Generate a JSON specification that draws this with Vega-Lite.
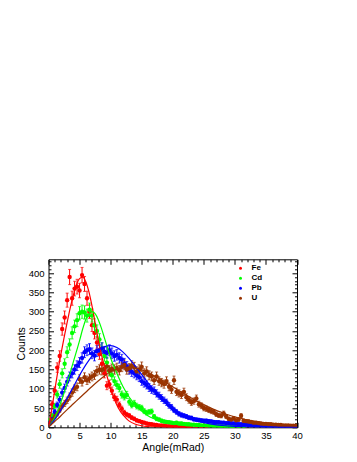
{
"$schema":"https://vega.github.io/schema/vega-lite/v6.json",
"width":248.5,"height":168,
"autosize":{"type":"none"},
"padding":{"left":48.5,"top":259.3,"right":60,"bottom":34.7},
"background":"white",
"view":{"stroke":"black","strokeWidth":1},
"config":{"axis":{"domain":false,"grid":false,"tickColor":"black","labelColor":"black","labelFont":"Liberation Sans","titleFont":"Liberation Sans","labelFontSize":9.5,"titleFontSize":10.5,"titleFontWeight":"normal","titleColor":"black","labelFlush":false,"labelOverlap":false,"zindex":1}},
"datasets":{
"pts":[
{"s":"Fe","x":0.2,"c":12,"e":3.5},{"s":"Fe","x":0.6,"c":60,"e":7.7},{"s":"Fe","x":1.0,"c":95,"e":9.7},{"s":"Fe","x":1.4,"c":155,"e":12.4},{"s":"Fe","x":1.8,"c":185,"e":13.6},{"s":"Fe","x":2.2,"c":255,"e":16},{"s":"Fe","x":2.6,"c":285,"e":16.9},{"s":"Fe","x":3.0,"c":330,"e":18.2},{"s":"Fe","x":3.4,"c":390,"e":19.7},{"s":"Fe","x":3.8,"c":335,"e":18.3},{"s":"Fe","x":4.2,"c":360,"e":19},{"s":"Fe","x":4.6,"c":365,"e":19.1},{"s":"Fe","x":5.0,"c":355,"e":18.8},{"s":"Fe","x":5.4,"c":395,"e":19.9},{"s":"Fe","x":5.8,"c":372,"e":19.3},{"s":"Fe","x":6.2,"c":335,"e":18.3},{"s":"Fe","x":6.6,"c":300,"e":17.3},{"s":"Fe","x":7.0,"c":265,"e":16.3},{"s":"Fe","x":7.4,"c":245,"e":15.7},{"s":"Fe","x":7.8,"c":220,"e":14.8},{"s":"Fe","x":8.2,"c":190,"e":13.8},{"s":"Fe","x":8.6,"c":165,"e":12.8},{"s":"Fe","x":9.0,"c":140,"e":11.8},{"s":"Fe","x":9.4,"c":108,"e":10.4},{"s":"Fe","x":9.8,"c":112,"e":10.6},{"s":"Fe","x":10.2,"c":95,"e":9.7},{"s":"Fe","x":10.6,"c":78,"e":8.8},{"s":"Fe","x":11.0,"c":72,"e":8.5},{"s":"Fe","x":11.4,"c":58,"e":7.6},{"s":"Fe","x":11.8,"c":48,"e":6.9},{"s":"Fe","x":12.2,"c":38,"e":6.2},{"s":"Fe","x":12.6,"c":33,"e":5.7},{"s":"Fe","x":13.0,"c":30,"e":5.5},{"s":"Fe","x":13.4,"c":25,"e":5},{"s":"Fe","x":13.8,"c":22,"e":4.7},{"s":"Fe","x":14.2,"c":18,"e":4.2},{"s":"Fe","x":14.6,"c":16,"e":4},{"s":"Fe","x":15.0,"c":14,"e":3.7},{"s":"Fe","x":15.4,"c":12,"e":3.5},{"s":"Fe","x":15.8,"c":10,"e":3.2},{"s":"Fe","x":16.2,"c":9,"e":3},{"s":"Fe","x":16.6,"c":8,"e":2.8},{"s":"Fe","x":17.0,"c":7,"e":2.6},{"s":"Fe","x":17.4,"c":6,"e":2.4},{"s":"Fe","x":17.8,"c":5,"e":2.2},{"s":"Fe","x":18.2,"c":5,"e":2.2},{"s":"Fe","x":18.6,"c":4,"e":2},{"s":"Fe","x":19.0,"c":3,"e":1.7},{"s":"Fe","x":19.4,"c":3,"e":1.7},{"s":"Fe","x":19.8,"c":2,"e":1.4},{"s":"Fe","x":20.2,"c":2,"e":1.4},{"s":"Fe","x":20.6,"c":2,"e":1.4},{"s":"Fe","x":21.0,"c":1,"e":1},{"s":"Fe","x":21.4,"c":1,"e":1},{"s":"Fe","x":21.8,"c":1,"e":1},{"s":"Fe","x":22.2,"c":1,"e":1},{"s":"Fe","x":22.6,"c":1,"e":1},{"s":"Fe","x":23.0,"c":1,"e":1},{"s":"Fe","x":23.8,"c":1,"e":1},{"s":"Fe","x":24.6,"c":1,"e":1},{"s":"Fe","x":25.4,"c":1,"e":1},
{"s":"Cd","x":0.2,"c":18,"e":4.2},{"s":"Cd","x":0.6,"c":30,"e":5.5},{"s":"Cd","x":1.0,"c":55,"e":7.4},{"s":"Cd","x":1.4,"c":85,"e":9.2},{"s":"Cd","x":1.8,"c":112,"e":10.6},{"s":"Cd","x":2.2,"c":140,"e":11.8},{"s":"Cd","x":2.6,"c":165,"e":12.8},{"s":"Cd","x":3.0,"c":195,"e":14},{"s":"Cd","x":3.4,"c":215,"e":14.7},{"s":"Cd","x":3.8,"c":245,"e":15.7},{"s":"Cd","x":4.2,"c":262,"e":16.2},{"s":"Cd","x":4.6,"c":278,"e":16.7},{"s":"Cd","x":5.0,"c":296,"e":17.2},{"s":"Cd","x":5.4,"c":300,"e":17.3},{"s":"Cd","x":5.8,"c":298,"e":17.3},{"s":"Cd","x":6.2,"c":290,"e":17},{"s":"Cd","x":6.6,"c":305,"e":17.5},{"s":"Cd","x":7.0,"c":290,"e":17},{"s":"Cd","x":7.4,"c":265,"e":16.3},{"s":"Cd","x":7.8,"c":250,"e":15.8},{"s":"Cd","x":8.2,"c":228,"e":15.1},{"s":"Cd","x":8.6,"c":205,"e":14.3},{"s":"Cd","x":9.0,"c":185,"e":13.6},{"s":"Cd","x":9.4,"c":168,"e":13},{"s":"Cd","x":9.8,"c":145,"e":12},{"s":"Cd","x":10.2,"c":135,"e":11.6},{"s":"Cd","x":10.6,"c":120,"e":11},{"s":"Cd","x":11.0,"c":110,"e":10.5},{"s":"Cd","x":11.4,"c":102,"e":10.1},{"s":"Cd","x":11.8,"c":85,"e":9.2},{"s":"Cd","x":12.2,"c":80,"e":8.9},{"s":"Cd","x":12.6,"c":84,"e":9.2},{"s":"Cd","x":13.0,"c":66,"e":8.1},{"s":"Cd","x":13.4,"c":58,"e":7.6},{"s":"Cd","x":13.8,"c":62,"e":7.9},{"s":"Cd","x":14.2,"c":55,"e":7.4},{"s":"Cd","x":14.6,"c":52,"e":7.2},{"s":"Cd","x":15.0,"c":50,"e":7.1},{"s":"Cd","x":15.4,"c":42,"e":6.5},{"s":"Cd","x":15.8,"c":38,"e":6.2},{"s":"Cd","x":16.2,"c":40,"e":6.3},{"s":"Cd","x":16.6,"c":41,"e":6.4},{"s":"Cd","x":17.0,"c":28,"e":5.3},{"s":"Cd","x":17.4,"c":22,"e":4.7},{"s":"Cd","x":17.8,"c":20,"e":4.5},{"s":"Cd","x":18.2,"c":17,"e":4.1},{"s":"Cd","x":18.6,"c":15,"e":3.9},{"s":"Cd","x":19.0,"c":14,"e":3.7},{"s":"Cd","x":19.4,"c":13,"e":3.6},{"s":"Cd","x":19.8,"c":12,"e":3.5},{"s":"Cd","x":20.2,"c":11,"e":3.3},{"s":"Cd","x":20.6,"c":12,"e":3.5},{"s":"Cd","x":21.0,"c":10,"e":3.2},{"s":"Cd","x":21.4,"c":10,"e":3.2},{"s":"Cd","x":21.8,"c":9,"e":3},{"s":"Cd","x":22.2,"c":8,"e":2.8},{"s":"Cd","x":22.6,"c":8,"e":2.8},{"s":"Cd","x":23.0,"c":7,"e":2.6},{"s":"Cd","x":23.4,"c":7,"e":2.6},{"s":"Cd","x":23.8,"c":6,"e":2.4},{"s":"Cd","x":24.2,"c":6,"e":2.4},{"s":"Cd","x":24.6,"c":5,"e":2.2},{"s":"Cd","x":25.0,"c":5,"e":2.2},{"s":"Cd","x":25.4,"c":4,"e":2},{"s":"Cd","x":25.8,"c":4,"e":2},{"s":"Cd","x":26.2,"c":4,"e":2},{"s":"Cd","x":26.6,"c":3,"e":1.7},{"s":"Cd","x":27.0,"c":3,"e":1.7},{"s":"Cd","x":27.4,"c":3,"e":1.7},{"s":"Cd","x":27.8,"c":2,"e":1.4},{"s":"Cd","x":28.2,"c":2,"e":1.4},{"s":"Cd","x":28.6,"c":2,"e":1.4},{"s":"Cd","x":29.0,"c":2,"e":1.4},{"s":"Cd","x":29.4,"c":1,"e":1},{"s":"Cd","x":29.8,"c":1,"e":1},{"s":"Cd","x":30.6,"c":1,"e":1},{"s":"Cd","x":31.4,"c":1,"e":1},
{"s":"Pb","x":0.2,"c":12,"e":3.5},{"s":"Pb","x":0.6,"c":22,"e":4.7},{"s":"Pb","x":1.0,"c":40,"e":6.3},{"s":"Pb","x":1.4,"c":58,"e":7.6},{"s":"Pb","x":1.8,"c":72,"e":8.5},{"s":"Pb","x":2.2,"c":90,"e":9.5},{"s":"Pb","x":2.6,"c":102,"e":10.1},{"s":"Pb","x":3.0,"c":118,"e":10.9},{"s":"Pb","x":3.4,"c":132,"e":11.5},{"s":"Pb","x":3.8,"c":140,"e":11.8},{"s":"Pb","x":4.2,"c":150,"e":12.2},{"s":"Pb","x":4.6,"c":160,"e":12.6},{"s":"Pb","x":5.0,"c":168,"e":13},{"s":"Pb","x":5.4,"c":180,"e":13.4},{"s":"Pb","x":5.8,"c":195,"e":14},{"s":"Pb","x":6.2,"c":200,"e":14.1},{"s":"Pb","x":6.6,"c":203,"e":14.2},{"s":"Pb","x":7.0,"c":192,"e":13.9},{"s":"Pb","x":7.4,"c":186,"e":13.6},{"s":"Pb","x":7.8,"c":198,"e":14.1},{"s":"Pb","x":8.2,"c":200,"e":14.1},{"s":"Pb","x":8.6,"c":205,"e":14.3},{"s":"Pb","x":9.0,"c":196,"e":14},{"s":"Pb","x":9.4,"c":193,"e":13.9},{"s":"Pb","x":9.8,"c":200,"e":14.1},{"s":"Pb","x":10.2,"c":192,"e":13.9},{"s":"Pb","x":10.6,"c":185,"e":13.6},{"s":"Pb","x":11.0,"c":188,"e":13.7},{"s":"Pb","x":11.4,"c":180,"e":13.4},{"s":"Pb","x":11.8,"c":176,"e":13.3},{"s":"Pb","x":12.2,"c":166,"e":12.9},{"s":"Pb","x":12.6,"c":158,"e":12.6},{"s":"Pb","x":13.0,"c":150,"e":12.2},{"s":"Pb","x":13.4,"c":144,"e":12},{"s":"Pb","x":13.8,"c":140,"e":11.8},{"s":"Pb","x":14.2,"c":135,"e":11.6},{"s":"Pb","x":14.6,"c":130,"e":11.4},{"s":"Pb","x":15.0,"c":120,"e":11},{"s":"Pb","x":15.4,"c":115,"e":10.7},{"s":"Pb","x":15.8,"c":110,"e":10.5},{"s":"Pb","x":16.2,"c":103,"e":10.1},{"s":"Pb","x":16.6,"c":98,"e":9.9},{"s":"Pb","x":17.0,"c":95,"e":9.7},{"s":"Pb","x":17.4,"c":88,"e":9.4},{"s":"Pb","x":17.8,"c":82,"e":9.1},{"s":"Pb","x":18.2,"c":76,"e":8.7},{"s":"Pb","x":18.6,"c":70,"e":8.4},{"s":"Pb","x":19.0,"c":65,"e":8.1},{"s":"Pb","x":19.4,"c":57,"e":7.5},{"s":"Pb","x":19.8,"c":52,"e":7.2},{"s":"Pb","x":20.2,"c":45,"e":6.7},{"s":"Pb","x":20.6,"c":40,"e":6.3},{"s":"Pb","x":21.0,"c":35,"e":5.9},{"s":"Pb","x":21.4,"c":32,"e":5.7},{"s":"Pb","x":21.8,"c":30,"e":5.5},{"s":"Pb","x":22.2,"c":28,"e":5.3},{"s":"Pb","x":22.6,"c":25,"e":5},{"s":"Pb","x":23.0,"c":24,"e":4.9},{"s":"Pb","x":23.4,"c":21,"e":4.6},{"s":"Pb","x":23.8,"c":20,"e":4.5},{"s":"Pb","x":24.2,"c":19,"e":4.4},{"s":"Pb","x":24.6,"c":18,"e":4.2},{"s":"Pb","x":25.0,"c":17,"e":4.1},{"s":"Pb","x":25.4,"c":17,"e":4.1},{"s":"Pb","x":25.8,"c":16,"e":4},{"s":"Pb","x":26.2,"c":15,"e":3.9},{"s":"Pb","x":26.6,"c":14,"e":3.7},{"s":"Pb","x":27.0,"c":13,"e":3.6},{"s":"Pb","x":27.4,"c":13,"e":3.6},{"s":"Pb","x":27.8,"c":12,"e":3.5},{"s":"Pb","x":28.2,"c":12,"e":3.5},{"s":"Pb","x":28.6,"c":11,"e":3.3},{"s":"Pb","x":29.0,"c":11,"e":3.3},{"s":"Pb","x":29.4,"c":10,"e":3.2},{"s":"Pb","x":29.8,"c":10,"e":3.2},{"s":"Pb","x":30.2,"c":9,"e":3},{"s":"Pb","x":30.6,"c":8,"e":2.8},{"s":"Pb","x":31.0,"c":8,"e":2.8},{"s":"Pb","x":31.4,"c":7,"e":2.6},{"s":"Pb","x":31.8,"c":7,"e":2.6},{"s":"Pb","x":32.2,"c":6,"e":2.4},{"s":"Pb","x":32.6,"c":5,"e":2.2},{"s":"Pb","x":33.0,"c":5,"e":2.2},{"s":"Pb","x":33.4,"c":4,"e":2},{"s":"Pb","x":33.8,"c":4,"e":2},{"s":"Pb","x":34.2,"c":4,"e":2},{"s":"Pb","x":34.6,"c":3,"e":1.7},{"s":"Pb","x":35.0,"c":3,"e":1.7},{"s":"Pb","x":35.4,"c":3,"e":1.7},{"s":"Pb","x":35.8,"c":2,"e":1.4},{"s":"Pb","x":36.2,"c":2,"e":1.4},{"s":"Pb","x":36.6,"c":2,"e":1.4},{"s":"Pb","x":37.0,"c":2,"e":1.4},{"s":"Pb","x":37.4,"c":1,"e":1},{"s":"Pb","x":37.8,"c":1,"e":1},{"s":"Pb","x":38.2,"c":1,"e":1},{"s":"Pb","x":38.6,"c":1,"e":1},{"s":"Pb","x":39.0,"c":1,"e":1},{"s":"Pb","x":39.4,"c":1,"e":1},{"s":"Pb","x":39.8,"c":1,"e":1},
{"s":"U","x":0.2,"c":10,"e":3.2},{"s":"U","x":0.6,"c":20,"e":4.5},{"s":"U","x":1.0,"c":28,"e":5.3},{"s":"U","x":1.4,"c":35,"e":5.9},{"s":"U","x":1.8,"c":45,"e":6.7},{"s":"U","x":2.2,"c":55,"e":7.4},{"s":"U","x":2.6,"c":62,"e":7.9},{"s":"U","x":3.0,"c":70,"e":8.4},{"s":"U","x":3.4,"c":80,"e":8.9},{"s":"U","x":3.8,"c":90,"e":9.5},{"s":"U","x":4.2,"c":100,"e":10},{"s":"U","x":4.6,"c":105,"e":10.2},{"s":"U","x":5.0,"c":125,"e":11.2},{"s":"U","x":5.4,"c":118,"e":10.9},{"s":"U","x":5.8,"c":130,"e":11.4},{"s":"U","x":6.2,"c":122,"e":11},{"s":"U","x":6.6,"c":127,"e":11.3},{"s":"U","x":7.0,"c":132,"e":11.5},{"s":"U","x":7.4,"c":136,"e":11.7},{"s":"U","x":7.8,"c":146,"e":12.1},{"s":"U","x":8.2,"c":150,"e":12.2},{"s":"U","x":8.6,"c":148,"e":12.2},{"s":"U","x":9.0,"c":153,"e":12.4},{"s":"U","x":9.4,"c":158,"e":12.6},{"s":"U","x":9.8,"c":148,"e":12.2},{"s":"U","x":10.2,"c":152,"e":12.3},{"s":"U","x":10.6,"c":150,"e":12.2},{"s":"U","x":11.0,"c":154,"e":12.4},{"s":"U","x":11.4,"c":148,"e":12.2},{"s":"U","x":11.8,"c":157,"e":12.5},{"s":"U","x":12.2,"c":162,"e":12.7},{"s":"U","x":12.6,"c":150,"e":12.2},{"s":"U","x":13.0,"c":153,"e":12.4},{"s":"U","x":13.4,"c":160,"e":12.6},{"s":"U","x":13.8,"c":156,"e":12.5},{"s":"U","x":14.2,"c":145,"e":12},{"s":"U","x":14.6,"c":150,"e":12.2},{"s":"U","x":15.0,"c":157,"e":12.5},{"s":"U","x":15.4,"c":140,"e":11.8},{"s":"U","x":15.8,"c":145,"e":12},{"s":"U","x":16.2,"c":135,"e":11.6},{"s":"U","x":16.6,"c":132,"e":11.5},{"s":"U","x":17.0,"c":122,"e":11},{"s":"U","x":17.4,"c":132,"e":11.5},{"s":"U","x":17.8,"c":120,"e":11},{"s":"U","x":18.2,"c":116,"e":10.8},{"s":"U","x":18.6,"c":112,"e":10.6},{"s":"U","x":19.0,"c":120,"e":11},{"s":"U","x":19.4,"c":105,"e":10.2},{"s":"U","x":19.8,"c":98,"e":9.9},{"s":"U","x":20.2,"c":122,"e":11},{"s":"U","x":20.6,"c":92,"e":9.6},{"s":"U","x":21.0,"c":88,"e":9.4},{"s":"U","x":21.4,"c":84,"e":9.2},{"s":"U","x":21.8,"c":92,"e":9.6},{"s":"U","x":22.2,"c":78,"e":8.8},{"s":"U","x":22.6,"c":71,"e":8.4},{"s":"U","x":23.0,"c":65,"e":8.1},{"s":"U","x":23.4,"c":68,"e":8.2},{"s":"U","x":23.8,"c":75,"e":8.7},{"s":"U","x":24.2,"c":60,"e":7.7},{"s":"U","x":24.6,"c":56,"e":7.5},{"s":"U","x":25.0,"c":50,"e":7.1},{"s":"U","x":25.4,"c":48,"e":6.9},{"s":"U","x":25.8,"c":45,"e":6.7},{"s":"U","x":26.2,"c":42,"e":6.5},{"s":"U","x":26.6,"c":40,"e":6.3},{"s":"U","x":27.0,"c":34,"e":5.8},{"s":"U","x":27.4,"c":31,"e":5.6},{"s":"U","x":27.8,"c":30,"e":5.5},{"s":"U","x":28.2,"c":36,"e":6},{"s":"U","x":28.6,"c":28,"e":5.3},{"s":"U","x":29.0,"c":22,"e":4.7},{"s":"U","x":29.4,"c":20,"e":4.5},{"s":"U","x":29.8,"c":23,"e":4.8},{"s":"U","x":30.2,"c":18,"e":4.2},{"s":"U","x":30.6,"c":20,"e":4.5},{"s":"U","x":31.0,"c":30,"e":5.5},{"s":"U","x":31.4,"c":17,"e":4.1},{"s":"U","x":31.8,"c":16,"e":4},{"s":"U","x":32.2,"c":15,"e":3.9},{"s":"U","x":32.6,"c":14,"e":3.7},{"s":"U","x":33.0,"c":12,"e":3.5},{"s":"U","x":33.4,"c":12,"e":3.5},{"s":"U","x":33.8,"c":11,"e":3.3},{"s":"U","x":34.2,"c":10,"e":3.2},{"s":"U","x":34.6,"c":9,"e":3},{"s":"U","x":35.0,"c":9,"e":3},{"s":"U","x":35.4,"c":8,"e":2.8},{"s":"U","x":35.8,"c":8,"e":2.8},{"s":"U","x":36.2,"c":7,"e":2.6},{"s":"U","x":36.6,"c":7,"e":2.6},{"s":"U","x":37.0,"c":6,"e":2.4},{"s":"U","x":37.4,"c":6,"e":2.4},{"s":"U","x":37.8,"c":5,"e":2.2},{"s":"U","x":38.2,"c":5,"e":2.2},{"s":"U","x":38.6,"c":5,"e":2.2},{"s":"U","x":39.0,"c":4,"e":2},{"s":"U","x":39.4,"c":4,"e":2},{"s":"U","x":39.8,"c":4,"e":2}
],
"fit":[
{"s":"Fe","x":0,"f":0},{"s":"Fe","x":0.5,"f":45},{"s":"Fe","x":1,"f":95},{"s":"Fe","x":1.5,"f":145},{"s":"Fe","x":2,"f":190},{"s":"Fe","x":2.5,"f":232},{"s":"Fe","x":3,"f":272},{"s":"Fe","x":3.5,"f":310},{"s":"Fe","x":4,"f":343},{"s":"Fe","x":4.5,"f":370},{"s":"Fe","x":5,"f":386},{"s":"Fe","x":5.5,"f":390},{"s":"Fe","x":6,"f":378},{"s":"Fe","x":6.5,"f":352},{"s":"Fe","x":7,"f":315},{"s":"Fe","x":7.5,"f":272},{"s":"Fe","x":8,"f":228},{"s":"Fe","x":8.5,"f":190},{"s":"Fe","x":9,"f":158},{"s":"Fe","x":9.5,"f":128},{"s":"Fe","x":10,"f":100},{"s":"Fe","x":10.5,"f":77},{"s":"Fe","x":11,"f":58},{"s":"Fe","x":11.5,"f":43},{"s":"Fe","x":12,"f":32},{"s":"Fe","x":12.5,"f":23},{"s":"Fe","x":13,"f":16},{"s":"Fe","x":14,"f":8},{"s":"Fe","x":15,"f":4},{"s":"Fe","x":16,"f":2},{"s":"Fe","x":17,"f":1},{"s":"Fe","x":18,"f":0.4},{"s":"Fe","x":20,"f":0},
{"s":"Cd","x":0,"f":0},{"s":"Cd","x":1,"f":25},{"s":"Cd","x":2,"f":65},{"s":"Cd","x":3,"f":115},{"s":"Cd","x":4,"f":170},{"s":"Cd","x":5,"f":225},{"s":"Cd","x":5.5,"f":255},{"s":"Cd","x":6,"f":280},{"s":"Cd","x":6.5,"f":295},{"s":"Cd","x":7,"f":300},{"s":"Cd","x":7.5,"f":295},{"s":"Cd","x":8,"f":280},{"s":"Cd","x":8.5,"f":258},{"s":"Cd","x":9,"f":232},{"s":"Cd","x":9.5,"f":206},{"s":"Cd","x":10,"f":180},{"s":"Cd","x":11,"f":140},{"s":"Cd","x":12,"f":105},{"s":"Cd","x":13,"f":78},{"s":"Cd","x":14,"f":58},{"s":"Cd","x":15,"f":42},{"s":"Cd","x":16,"f":30},{"s":"Cd","x":17,"f":22},{"s":"Cd","x":18,"f":16},{"s":"Cd","x":19,"f":12},{"s":"Cd","x":20,"f":9},{"s":"Cd","x":22,"f":5},{"s":"Cd","x":24,"f":3},{"s":"Cd","x":26,"f":1.5},{"s":"Cd","x":28,"f":0.8},{"s":"Cd","x":30,"f":0.3},
{"s":"Pb","x":0,"f":0},{"s":"Pb","x":1,"f":20},{"s":"Pb","x":2,"f":45},{"s":"Pb","x":3,"f":75},{"s":"Pb","x":4,"f":105},{"s":"Pb","x":5,"f":135},{"s":"Pb","x":6,"f":162},{"s":"Pb","x":7,"f":185},{"s":"Pb","x":8,"f":200},{"s":"Pb","x":9,"f":209},{"s":"Pb","x":10,"f":212},{"s":"Pb","x":11,"f":207},{"s":"Pb","x":12,"f":195},{"s":"Pb","x":13,"f":178},{"s":"Pb","x":14,"f":158},{"s":"Pb","x":15,"f":137},{"s":"Pb","x":16,"f":116},{"s":"Pb","x":17,"f":96},{"s":"Pb","x":18,"f":78},{"s":"Pb","x":19,"f":62},{"s":"Pb","x":20,"f":49},{"s":"Pb","x":21,"f":38},{"s":"Pb","x":22,"f":29},{"s":"Pb","x":23,"f":22},{"s":"Pb","x":24,"f":16},{"s":"Pb","x":25,"f":12},{"s":"Pb","x":26,"f":9},{"s":"Pb","x":27,"f":6.5},{"s":"Pb","x":28,"f":4.7},{"s":"Pb","x":30,"f":2.4},{"s":"Pb","x":32,"f":1.2},{"s":"Pb","x":35,"f":0.4},{"s":"Pb","x":40,"f":0},
{"s":"U","x":0,"f":0},{"s":"U","x":1,"f":15},{"s":"U","x":2,"f":30},{"s":"U","x":3,"f":46},{"s":"U","x":4,"f":61},{"s":"U","x":5,"f":76},{"s":"U","x":6,"f":91},{"s":"U","x":7,"f":106},{"s":"U","x":8,"f":120},{"s":"U","x":9,"f":133},{"s":"U","x":10,"f":144},{"s":"U","x":11,"f":151},{"s":"U","x":12,"f":155},{"s":"U","x":13,"f":156},{"s":"U","x":14,"f":154},{"s":"U","x":15,"f":149},{"s":"U","x":16,"f":142},{"s":"U","x":17,"f":134},{"s":"U","x":18,"f":125},{"s":"U","x":19,"f":115},{"s":"U","x":20,"f":105},{"s":"U","x":21,"f":95},{"s":"U","x":22,"f":85},{"s":"U","x":23,"f":76},{"s":"U","x":24,"f":67},{"s":"U","x":25,"f":59},{"s":"U","x":26,"f":51},{"s":"U","x":27,"f":44},{"s":"U","x":28,"f":38},{"s":"U","x":29,"f":32},{"s":"U","x":30,"f":27},{"s":"U","x":31,"f":23},{"s":"U","x":32,"f":19},{"s":"U","x":33,"f":16},{"s":"U","x":34,"f":13},{"s":"U","x":35,"f":11},{"s":"U","x":36,"f":9},{"s":"U","x":37,"f":7},{"s":"U","x":38,"f":6},{"s":"U","x":39,"f":5},{"s":"U","x":40,"f":4}
]},
"layer":[
{"data":{"name":"pts"},
 "mark":{"type":"errorbar","ticks":{"size":3},"thickness":1},
 "encoding":{
  "x":{"field":"x","type":"quantitative","scale":{"domain":[0,40],"nice":false,"zero":false},
       "axis":{"orient":"bottom","values":[0,5,10,15,20,25,30,35,40],"tickSize":-5,"labelPadding":8,"title":"Angle(mRad)","titlePadding":3}},
  "y":{"field":"c","type":"quantitative","scale":{"domain":[0,436],"nice":false,"zero":false},
       "axis":{"orient":"left","values":[0,50,100,150,200,250,300,350,400],"tickSize":-5,"labelPadding":9.5,"title":"Counts","titlePadding":2}},
  "yError":{"field":"e"},
  "color":{"field":"s","type":"nominal","scale":{"domain":["Fe","Cd","Pb","U"],"range":["#ff0000","#00ff00","#0000ff","#993300"]},"legend":null}
 }},
{"data":{"name":"pts"},
 "mark":{"type":"circle","size":19,"opacity":1,"clip":true},
 "encoding":{
  "x":{"field":"x","type":"quantitative","scale":{"domain":[0,40],"nice":false,"zero":false},
       "axis":{"orient":"top","values":[0,5,10,15,20,25,30,35,40],"tickSize":-5,"labels":false,"title":null}},
  "y":{"field":"c","type":"quantitative","scale":{"domain":[0,436],"nice":false,"zero":false},
       "axis":{"orient":"right","values":[0,50,100,150,200,250,300,350,400],"tickSize":-5,"labels":false,"title":null}},
  "color":{"field":"s","type":"nominal","scale":{"domain":["Fe","Cd","Pb","U"],"range":["#ff0000","#00ff00","#0000ff","#993300"]},
     "legend":{"orient":"none","legendX":188,"legendY":5,"title":null,"labelFontSize":8,"labelFontWeight":"bold","labelFont":"Liberation Sans","labelColor":"black","symbolType":"circle","symbolSize":9,"symbolStrokeWidth":0,"rowPadding":2,"labelOffset":7,"padding":0}}
 }},
{"data":{"name":"fit"},
 "transform":[{"filter":{"field":"s","oneOf":["Fe","Cd"]}}],
 "mark":{"type":"line","strokeWidth":1.2,"interpolate":"monotone","clip":true},
 "encoding":{
  "x":{"field":"x","type":"quantitative","scale":{"domain":[0,40],"nice":false,"zero":false},
       "axis":{"orient":"bottom","values":[1,2,3,4,6,7,8,9,11,12,13,14,16,17,18,19,21,22,23,24,26,27,28,29,31,32,33,34,36,37,38,39],"tickSize":-2.5,"labels":false,"title":null}},
  "y":{"field":"f","type":"quantitative","scale":{"domain":[0,436],"nice":false,"zero":false},
       "axis":{"orient":"left","values":[10,20,30,40,60,70,80,90,110,120,130,140,160,170,180,190,210,220,230,240,260,270,280,290,310,320,330,340,360,370,380,390,410,420,430],"tickSize":-2.5,"labels":false,"title":null}},
  "color":{"field":"s","type":"nominal","scale":{"domain":["Fe","Cd","Pb","U"],"range":["#ff0000","#00ff00","#0000ff","#993300"]},"legend":null}
 }},
{"data":{"name":"fit"},
 "transform":[{"filter":{"field":"s","oneOf":["Pb","U"]}}],
 "mark":{"type":"line","strokeWidth":1.2,"interpolate":"monotone","clip":true},
 "encoding":{
  "x":{"field":"x","type":"quantitative","scale":{"domain":[0,40],"nice":false,"zero":false},
       "axis":{"orient":"top","values":[1,2,3,4,6,7,8,9,11,12,13,14,16,17,18,19,21,22,23,24,26,27,28,29,31,32,33,34,36,37,38,39],"tickSize":-2.5,"labels":false,"title":null}},
  "y":{"field":"f","type":"quantitative","scale":{"domain":[0,436],"nice":false,"zero":false},
       "axis":{"orient":"right","values":[10,20,30,40,60,70,80,90,110,120,130,140,160,170,180,190,210,220,230,240,260,270,280,290,310,320,330,340,360,370,380,390,410,420,430],"tickSize":-2.5,"labels":false,"title":null}},
  "color":{"field":"s","type":"nominal","scale":{"domain":["Fe","Cd","Pb","U"],"range":["#ff0000","#00ff00","#0000ff","#993300"]},"legend":null}
 }}
],
"resolve":{"axis":{"x":"independent","y":"independent"},"legend":{"color":"independent"}}
}
